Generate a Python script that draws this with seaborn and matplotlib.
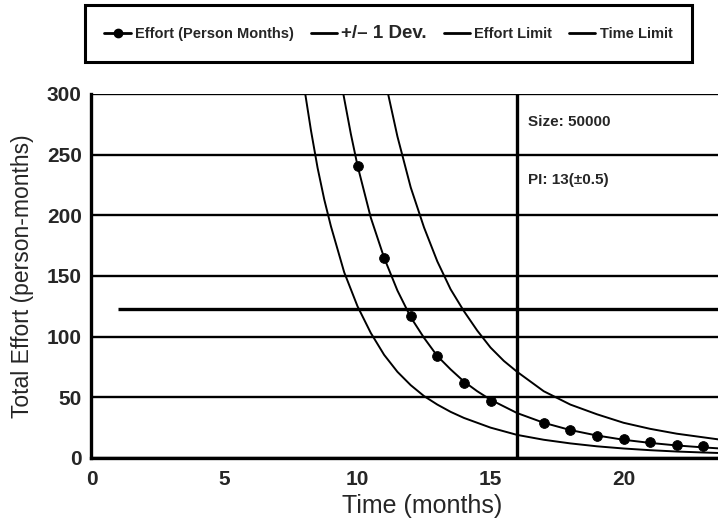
import matplotlib
matplotlib.use("Agg")
import matplotlib.pyplot as plt
import pandas as pd
import seaborn as sns
from matplotlib.lines import Line2D

# estimated effort points (person-months) at monthly schedules
point_months = [10, 11, 12, 13, 14, 15, 17, 18, 19, 20, 21, 22, 23]
point_effort = [241, 165, 117, 84, 62, 47, 29, 23, 18.5, 15.5, 13, 11, 9.5]

# centre trade-off curve
mid_months = [9.45, 9.75, 10, 10.5, 11, 11.5, 12, 12.5, 13, 13.5, 14, 14.5,
              15, 16, 17, 18, 19, 20, 21, 22, 23, 24]
mid_effort = [302, 267, 241, 198, 165, 138, 116, 99, 84, 73, 63, 55,
              48, 37, 29, 23, 18.5, 15, 12.4, 10.3, 8.7, 7.3]

# -1 deviation curve
low_months = [8.0, 8.25, 8.5, 8.75, 9, 9.5, 10, 10.5, 11, 11.5, 12, 12.5,
              13, 13.5, 14, 15, 16, 17, 18, 19, 20, 21, 22, 23, 24]
low_effort = [305, 270, 239, 213, 191, 153, 125, 103, 85, 71, 60, 51,
              44, 38, 33, 25, 19, 15, 12, 9.6, 7.8, 6.4, 5.3, 4.5, 3.8]

# +1 deviation curve
high_months = [11.1, 11.5, 12, 12.5, 13, 13.5, 14, 14.5, 15, 15.5, 16,
               17, 18, 19, 20, 21, 22, 23, 24]
high_effort = [305, 265, 223, 190, 162, 139, 121, 105, 91, 80, 71,
               55, 44, 36, 29, 24, 20, 17, 14]

effort_limit = 123
effort_limit_from = 1
time_limit = 16

x_ticks = [0, 5, 10, 15, 20]
y_ticks = [0, 50, 100, 150, 200, 250, 300]
legend_labels = ["Effort (Person Months)", "+/\u2013 1 Dev.", "Effort Limit", "Time Limit"]

sns.set_style("white")
plt.rcParams["font.family"] = ["Liberation Sans", "DejaVu Sans"]

fig = plt.figure(figsize=(7.18, 5.21), dpi=100)
ax = fig.add_axes([0.1274, 0.121, 0.8726, 0.6986])

for y in y_ticks:
    ax.axhline(y, color="black", lw=1.7, zorder=1)

curve_kw = dict(color="black", lw=1.4, zorder=3, legend=False, ax=ax)
sns.lineplot(data=pd.DataFrame({"t": low_months, "e": low_effort}), x="t", y="e", **curve_kw)
sns.lineplot(data=pd.DataFrame({"t": mid_months, "e": mid_effort}), x="t", y="e", **curve_kw)
sns.lineplot(data=pd.DataFrame({"t": high_months, "e": high_effort}), x="t", y="e", **curve_kw)
sns.scatterplot(x=point_months, y=point_effort, color="black", s=50,
                edgecolor="black", zorder=4, ax=ax)

ax.hlines(effort_limit, effort_limit_from, 30, color="black", lw=2.4, zorder=2)
ax.vlines(time_limit, 0, 300, color="black", lw=2.4, zorder=2)

ax.text(16.4, 277, "Size: 50000", fontsize=11, weight="bold", va="center")
ax.text(16.4, 229, "PI: 13(\u00b10.5)", fontsize=11, weight="bold", va="center")

ax.set_xlim(0, 23.55)
ax.set_ylim(0, 300)
ax.set_xticks(x_ticks)
ax.set_yticks(y_ticks)
ax.tick_params(axis="y", length=5, width=2, color="black", labelsize=15, pad=2)
ax.tick_params(axis="x", length=0, labelsize=15, pad=9)
for lab in ax.get_xticklabels() + ax.get_yticklabels():
    lab.set_fontweight("bold")
ax.set_xlabel("Time (months)", fontsize=18, labelpad=3)
ax.xaxis.label.set_x(0.527)
ax.set_ylabel("Total Effort (person-months)", fontsize=16.5, labelpad=9)

for side in ["top", "right"]:
    ax.spines[side].set_visible(False)
for side in ["left", "bottom"]:
    ax.spines[side].set_linewidth(2.4)
    ax.spines[side].set_color("black")

handles = [
    Line2D([], [], color="black", lw=2, marker="o", markersize=6),
    Line2D([], [], color="black", lw=2),
    Line2D([], [], color="black", lw=2),
    Line2D([], [], color="black", lw=2),
]
leg = fig.legend(handles, legend_labels, loc="center", ncol=4, mode="expand",
                 bbox_to_anchor=(0.118, 0.879, 0.846, 0.113), borderaxespad=0,
                 borderpad=1.35, handlelength=1.8, handletextpad=0.3,
                 columnspacing=1.0, fancybox=False, edgecolor="black",
                 framealpha=1, prop={"size": 10.5, "weight": "bold"})
leg.get_frame().set_linewidth(2.2)
leg.get_texts()[1].set_fontsize(13.5)

fig.savefig("out.png", dpi=100)
